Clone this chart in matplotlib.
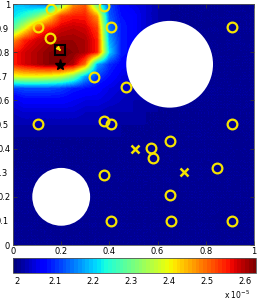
import numpy as np
import matplotlib.pyplot as plt
from matplotlib.patches import Circle

# concentration field (units of 1e-5), read on a 0.05 grid
# patch covers x = 0..0.6, y = 1.0..0.5 (rows top to bottom); rest is background
patch_x = np.arange(0, 0.601, 0.05)
patch_y = np.arange(1.0, 0.499, -0.05)
patch_vals = np.array([
    [2.20, 2.18, 2.15, 2.12, 2.31, 2.47, 2.51, 2.28, 2.12, 2.07, 2.05, 2.04, 2.02],
    [2.21, 2.25, 2.31, 2.41, 2.53, 2.55, 2.55, 2.47, 2.13, 2.08, 2.07, 2.04, 2.02],
    [2.28, 2.39, 2.51, 2.55, 2.58, 2.59, 2.58, 2.53, 2.15, 2.09, 2.07, 2.04, 2.02],
    [2.47, 2.55, 2.58, 2.60, 2.61, 2.61, 2.60, 2.55, 2.18, 2.09, 2.07, 2.04, 2.02],
    [2.55, 2.58, 2.60, 2.62, 2.63, 2.62, 2.60, 2.55, 2.21, 2.09, 2.07, 2.04, 2.02],
    [2.55, 2.58, 2.60, 2.62, 2.62, 2.60, 2.49, 2.18, 2.10, 2.07, 2.05, 2.03, 2.02],
    [2.39, 2.40, 2.40, 2.39, 2.37, 2.31, 2.18, 2.11, 2.08, 2.05, 2.04, 2.03, 2.02],
    [2.11, 2.12, 2.12, 2.12, 2.11, 2.09, 2.08, 2.07, 2.05, 2.04, 2.03, 2.02, 2.02],
    [2.05, 2.07, 2.07, 2.07, 2.07, 2.06, 2.05, 2.05, 2.04, 2.03, 2.02, 2.02, 2.01],
    [2.03, 2.04, 2.04, 2.04, 2.04, 2.04, 2.03, 2.03, 2.02, 2.02, 2.02, 2.01, 2.01],
    [2.02, 2.02, 2.02, 2.02, 2.02, 2.02, 2.02, 2.02, 2.02, 2.01, 2.01, 2.01, 2.01],
])
background = 2.01
vmin, vmax = 1.99, 2.63

# obstacles (x, y, r)
obst_x = [0.65, 0.20]
obst_y = [0.75, 0.20]
obst_r = [0.18, 0.12]

# sensors
sens_x = [0.156, 0.105, 0.154, 0.379, 0.407, 0.91, 0.337, 0.469, 0.102, 0.378,
          0.407, 0.91, 0.571, 0.58, 0.651, 0.846, 0.376, 0.651, 0.407, 0.654, 0.91]
sens_y = [0.978, 0.906, 0.858, 0.992, 0.903, 0.903, 0.696, 0.654, 0.501, 0.515,
          0.501, 0.501, 0.402, 0.361, 0.433, 0.321, 0.292, 0.209, 0.098, 0.098, 0.098]
cross_x = [0.506, 0.708]
cross_y = [0.398, 0.302]
source_x, source_y = 0.195, 0.746
est_x, est_y = 0.195, 0.809

# build full field on the 0.05 grid (row 0 = y 0)
n = 21
Z = np.full((n, n), background)
for i, yv in enumerate(patch_y):
    for j, xv in enumerate(patch_x):
        Z[int(round(yv / 0.05)), int(round(xv / 0.05))] = patch_vals[i, j]

cmap = plt.get_cmap('jet', 64)
fig = plt.figure(figsize=(2.58, 3.02), dpi=100)
ax = fig.add_axes([0.0504, 0.1887, 0.934, 0.798])
im = ax.imshow(Z, origin='lower', extent=(-0.025, 1.025, -0.025, 1.025),
               cmap=cmap, vmin=vmin, vmax=vmax, interpolation='bilinear',
               interpolation_stage='data', aspect='auto')

for cx, cy, r in zip(obst_x, obst_y, obst_r):
    ax.add_patch(Circle((cx, cy), r, facecolor='white', edgecolor='none', zorder=3))

yel = '#f5e400'
ax.plot(sens_x, sens_y, 'o', ms=7, mfc='none', mec=yel, mew=1.6, zorder=4)
ax.plot(cross_x, cross_y, 'x', ms=6, mec=yel, mew=1.8, zorder=4)
ax.plot(source_x, source_y, '*', ms=8, color='black', zorder=5)
ax.plot(est_x, est_y, 's', ms=6.5, mfc='none', mec='black', mew=1.5, zorder=5)
ax.annotate('', xy=(est_x + 0.012, est_y - 0.012), xytext=(est_x - 0.01, est_y + 0.01),
            arrowprops=dict(arrowstyle='-|>', color=yel, lw=1.2, mutation_scale=5), zorder=6)

ax.set_xlim(0, 1)
ax.set_ylim(0, 1)
ax.set_xticks(np.arange(0, 1.01, 0.2))
ax.set_xticklabels(['0', '0.2', '0.4', '0.6', '0.8', '1'])
ax.set_yticks(np.arange(0, 1.01, 0.2))
ax.set_yticklabels(['0', '0.2', '0.4', '0.6', '0.8', '1'])
ax.set_yticks(np.arange(0.1, 1.0, 0.2), minor=True)
ax.set_yticklabels(['0.1', '0.3', '0.5', '0.7', '0.9'], minor=True)
ax.tick_params(which='major', direction='in', length=3, width=0.6, labelsize=6,
               top=True, right=True, pad=2, colors='#333333', labelcolor='black')
ax.tick_params(which='minor', length=0, labelsize=6, pad=3.5)
ax.tick_params(axis='x', pad=1.5)
for s in ax.spines.values():
    s.set_color('#555555')
    s.set_linewidth(0.6)

cax = fig.add_axes([0.0516, 0.096, 0.942, 0.0497])
cb = fig.colorbar(im, cax=cax, orientation='horizontal')
cb.set_ticks([2.0, 2.1, 2.2, 2.3, 2.4, 2.5, 2.6])
cb.set_ticklabels(['2', '2.1', '2.2', '2.3', '2.4', '2.5', '2.6'])
cax.tick_params(labelsize=6, length=0, pad=3)
cb.outline.set_linewidth(0.6)
cb.outline.set_edgecolor('#555555')
fig.text(0.97, 0.003, r'x 10$^{-5}$', fontsize=5.5, ha='right', va='bottom')

fig.savefig('out.png', dpi=100)
